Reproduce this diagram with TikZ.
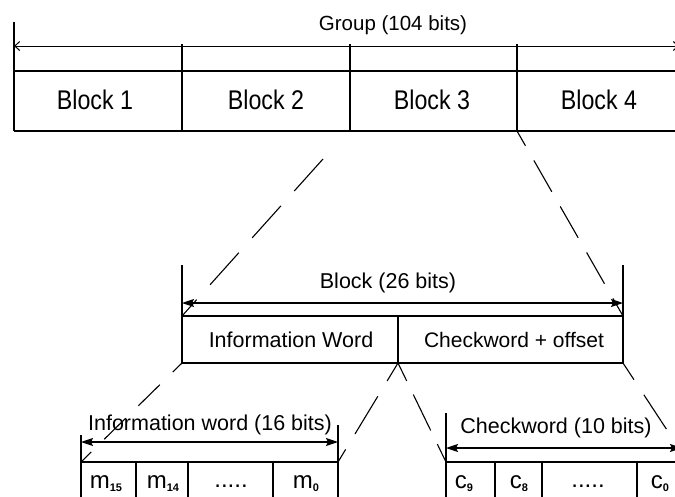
\documentclass[tikz,border=0pt]{standalone}
\usepackage{fontspec}
\setmainfont{Liberation Sans}
\usetikzlibrary{arrows.meta}
\newcommand\mysub[1]{\raisebox{-0.3ex}{\fontsize{11}{11}\selectfont\bfseries #1}}
\newcommand\blocktxt[1]{\scalebox{0.86}[1]{\fontsize{27}{27}\selectfont #1}}
\begin{document}
\begin{tikzpicture}[x=1pt,y=-1pt,line width=1.1pt,
  lbltop/.style={font=\fontsize{20.5}{20.5}\selectfont,inner sep=0pt,anchor=base},
  lblblock/.style={inner sep=0pt,anchor=base},
  lblmid/.style={font=\fontsize{21.5}{21.5}\selectfont,inner sep=0pt},
  lblbit/.style={font=\fontsize{24}{24}\selectfont,inner sep=0pt,anchor=base},
  openarr/.style={{Straight Barb[length=5pt,width=9pt]}-{Straight Barb[length=5pt,width=9pt]}},
  fillarr/.style={{Stealth[length=12pt,width=8pt,inset=2pt]}-{Stealth[length=12pt,width=8pt,inset=2pt]}},
  zoomline/.style={line width=1.1pt}]
\useasboundingbox (0,0) rectangle (675,496);
\clip (0,0) rectangle (675,496);

% ---------- top: group ----------
\coordinate (gT) at (14,22);
\coordinate (gB) at (14,131);
\coordinate (gAL) at (14,46);
\coordinate (gAR) at (679,46);
\coordinate (gML) at (14,71);
\coordinate (gMR) at (680,71);
\coordinate (gBR) at (680,131);
\draw (gT) -- (gB);
\draw[openarr,line width=1pt] (gAL) -- (gAR);
\draw (gML) -- (gMR);
\draw (gB) -- (gBR);
\foreach \x/\n in {182/a,350/b,517/c}{
  \coordinate (s\n t) at (\x,44);
  \coordinate (s\n b) at (\x,131);
  \draw (s\n t) -- (s\n b);
}
\node[lbltop] (group) at (393,30) {Group (104 bits)};
\node[lblblock] (b1) at (95,109) {\blocktxt{Block 1}};
\node[lblblock] (b2) at (266,109) {\blocktxt{Block 2}};
\node[lblblock] (b3) at (432,109) {\blocktxt{Block 3}};
\node[lblblock] (b4) at (599,109) {\blocktxt{Block 4}};

% ---------- middle: block ----------
\coordinate (mLT) at (182,265);
\coordinate (mLB) at (182,363);
\coordinate (mRT) at (623,265);
\coordinate (mRB) at (623,363);
\coordinate (mAL) at (182,303);
\coordinate (mAR) at (623,303);
\coordinate (mBoxTL) at (182,316);
\coordinate (mBoxTR) at (623,316);
\coordinate (mSepT) at (398,316);
\coordinate (mSepB) at (398,363);
\draw (mLT) -- (mLB);
\draw (mRT) -- (mRB);
\draw[fillarr] (mAL) -- (mAR);
\draw (mBoxTL) -- (mBoxTR);
\draw (mLB) -- (mRB);
\draw (mSepT) -- (mSepB);
\node[lblmid] (blk) at (388,283) {Block (26 bits)};
\node[lblmid] (iw) at (291,340) {Information Word};
\node[lblmid,font=\fontsize{21}{21}\selectfont] (cw) at (514,340) {Checkword + offset};

% dashed zoom lines, group -> block
\coordinate (zL0) at (323,159);
\draw[zoomline,dash pattern=on 43pt off 20pt] (zL0) -- (mBoxTL);
\draw[zoomline,dash pattern=on 36pt off 17pt,dash phase=19pt] (scb) -- (mBoxTR);

% ---------- bottom left: information word ----------
\coordinate (iLT) at (81,435);
\coordinate (iLB) at (81,500);
\coordinate (iRT) at (338,425);
\coordinate (iRB) at (338,500);
\coordinate (iAL) at (81,442);
\coordinate (iAR) at (338,442);
\coordinate (iRowL) at (81,462);
\coordinate (iRowR) at (338,462);
\draw (iLT) -- (iLB);
\draw (iRT) -- (iRB);
\draw[fillarr] (iAL) -- (iAR);
\draw (iRowL) -- (iRowR);
\foreach \x/\n in {136/a,188/b,273/c}{
  \coordinate (i\n t) at (\x,462);
  \coordinate (i\n b) at (\x,500);
  \draw (i\n t) -- (i\n b);
}
\node[lblmid] (iwl) at (210,425) {Information word (16 bits)};
\node[lblbit] (m15) at (106,488) {m\mysub{15}};
\node[lblbit] (m14) at (163,488) {m\mysub{14}};
\node[lblbit] (mdots) at (231,487) {.....};
\node[lblbit] (m0) at (306,488) {m\mysub{0}};

% ---------- bottom right: checkword ----------
\coordinate (cLT) at (446,413);
\coordinate (cLB) at (446,500);
\coordinate (cAL) at (446,448);
\coordinate (cAR) at (682,448);
\coordinate (cRowL) at (446,462);
\coordinate (cRowR) at (682,462);
\draw (cLT) -- (cLB);
\draw[fillarr] (cAL) -- (cAR);
\draw (cRowL) -- (cRowR);
\foreach \x/\n in {495/a,542/b,637/c}{
  \coordinate (c\n t) at (\x,462);
  \coordinate (c\n b) at (\x,500);
  \draw (c\n t) -- (c\n b);
}
\node[lblmid] (cwl) at (556,428) {Checkword (10 bits)};
\node[lblbit] (c9) at (464,488) {c\mysub{9}};
\node[lblbit] (c8) at (519,488) {c\mysub{8}};
\node[lblbit] (cdots) at (588,487) {.....};
\node[lblbit] (c0) at (660,488) {c\mysub{0}};

% dashed zoom lines, block -> words
\coordinate (cRowRR) at (688,462);
\draw[zoomline,dash pattern=on 30pt off 18pt,dash phase=17pt] (mLB) -- (iRowL);
\draw[zoomline,dash pattern=on 44pt off 18pt,dash phase=23pt] (mSepB) -- (iRowR);
\draw[zoomline,dash pattern=on 40pt off 15pt,dash phase=20pt] (mSepB) -- (cRowL);
\draw[zoomline,dash pattern=on 41pt off 18pt,dash phase=21pt] (mRB) -- (cRowRR);
\end{tikzpicture}
\end{document}
